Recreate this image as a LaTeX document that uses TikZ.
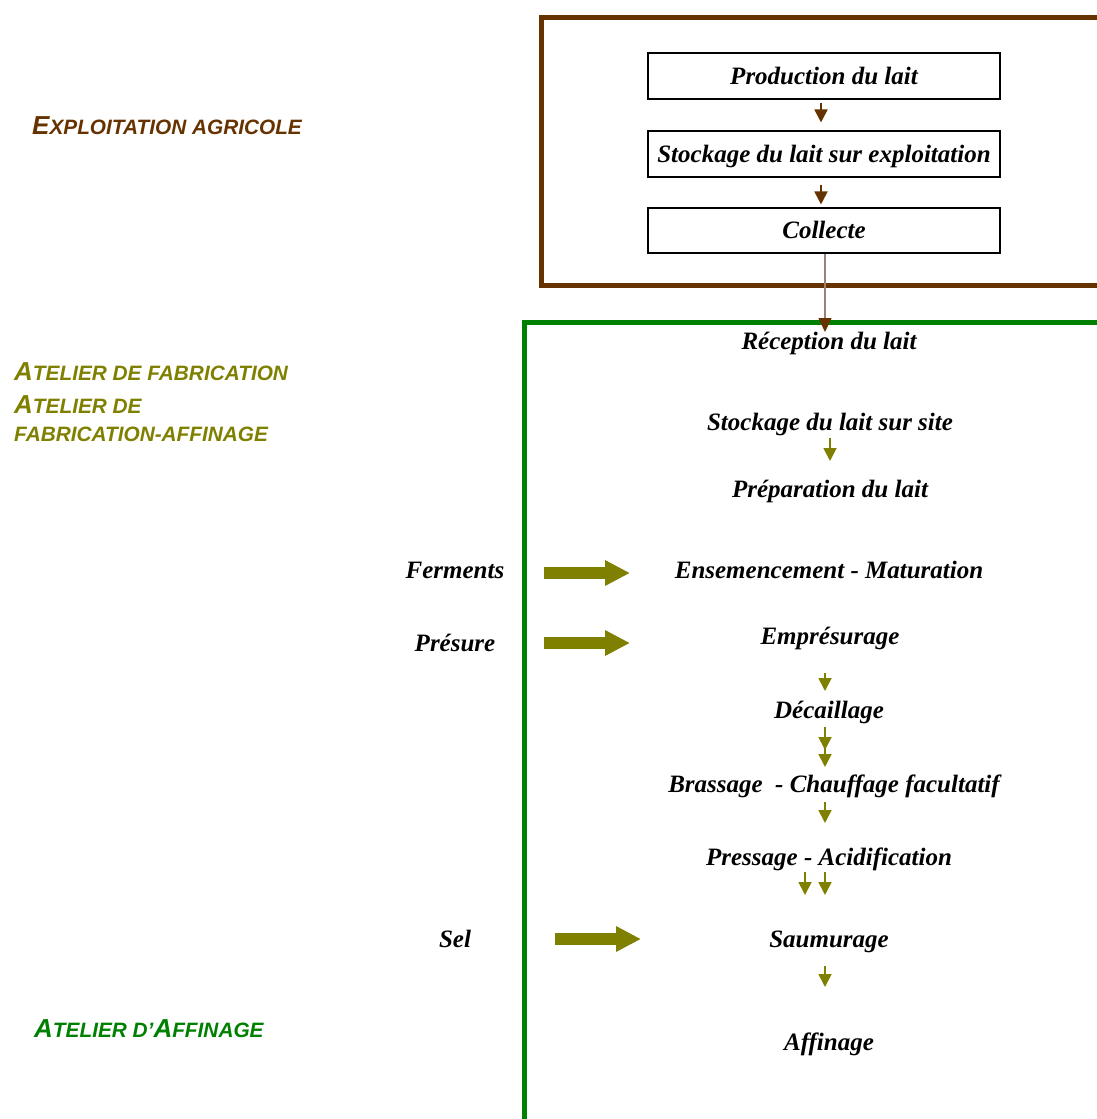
\documentclass[tikz,border=0pt]{standalone}
\usepackage{fontspec}
\setmainfont{Liberation Serif}
\newfontfamily\lblfamily{Liberation Sans}
\usetikzlibrary{arrows.meta,calc}
\definecolor{brn}{HTML}{663300}
\definecolor{olv}{HTML}{808000}
\definecolor{grn}{HTML}{008000}
\definecolor{lnk}{HTML}{9C8070}
\newcommand\stepfont{\fontsize{25pt}{30pt}\selectfont\bfseries\itshape}
\newcommand\lblfont{\lblfamily\fontsize{20.8pt}{24pt}\selectfont\bfseries\itshape}
\newcommand\capbig[1]{{\fontsize{26pt}{30pt}\selectfont #1}}
\tikzset{
  flowbox/.style={draw=black, line width=1.1pt, minimum width=352pt, minimum height=46pt,
    inner sep=0pt, text height=20pt, text depth=4pt, font=\stepfont},
  steptext/.style={anchor=base, inner sep=0pt, font=\stepfont},
  lbl/.style={anchor=base west, inner sep=0pt, font=\lblfont},
  brarrow/.style={draw=brn, line width=1.8pt, -{Triangle[width=13pt,length=13pt,color=brn]}},
  olarrow/.style={draw=olv, line width=1.8pt, -{Triangle[width=13pt,length=13pt,color=olv]}},
  olarrowtwo/.style={draw=olv, line width=1.8pt, -{Triangle[width=13pt,length=13pt,color=olv,sep=4pt]Triangle[width=13pt,length=13pt,color=olv]}},
  bigarrow/.style={draw=olv, line width=12pt, -{Triangle[width=24pt,length=25pt,color=olv]}},
  linkarrow/.style={draw=lnk, line width=1.5pt, -{Triangle[width=13pt,length=14pt,color=brn]}}
}
\begin{document}
\begin{tikzpicture}[x=1pt,y=-1pt]
\useasboundingbox (0,0) rectangle (1096,1119);
% frames
\draw[brn, line width=5.5pt] (541.5,17.5) rectangle (1120,285.5);
\draw[grn, line width=4.5pt] (524.5,322.5) rectangle (1120,1140);
% left labels
\node[lbl, text=brn] (lexp) at (32,134) {\capbig{E}XPLOITATION AGRICOLE};
\node[lbl, text=olv] (lfab1) at (14,380) {\capbig{A}TELIER DE FABRICATION};
\node[lbl, text=olv] (lfab2) at (14,413) {\capbig{A}TELIER DE};
\node[lbl, text=olv] (lfab3) at (14,441) {FABRICATION-AFFINAGE};
\node[lbl, text=grn] (laff) at (34,1037) {\capbig{A}TELIER D’\capbig{A}FFINAGE};
% farm boxes
\node[flowbox] (prod) at (824,76) {Production du lait};
\node[flowbox] (stockexp) at (824,154) {Stockage du lait sur exploitation};
\node[flowbox, minimum height=45pt] (coll) at (824,230.5) {Collecte};
\draw[brarrow] ($(prod.south)+(-3,3)$) -- ($(stockexp.north)+(-3,-8)$);
\draw[brarrow] ($(stockexp.south)+(-3,7)$) -- ($(coll.north)+(-3,-3)$);
% process steps
\node[steptext] (recep) at (829,349) {Réception du lait};
\node[steptext] (stocksite) at (830,430) {Stockage du lait sur site};
\node[steptext] (prep) at (830,497) {Préparation du lait};
\node[steptext] (ensem) at (829,578) {Ensemencement - Maturation};
\node[steptext] (empres) at (830,644) {Emprésurage};
\node[steptext] (decail) at (829,718) {Décaillage};
\node[steptext] (brass) at (834,792) {Brassage\ \ - Chauffage facultatif};
\node[steptext] (press) at (829,865) {Pressage - Acidification};
\node[steptext] (saum) at (829,947) {Saumurage};
\node[steptext] (affin) at (829,1050) {Affinage};
% inputs
\node[steptext] (ferm) at (455,578) {Ferments};
\node[steptext] (pres) at (455,651) {Présure};
\node[steptext] (sel) at (455,947) {Sel};
% link collecte -> reception
\draw[linkarrow] ($(coll.south)+(1,0)$) -- (825,332) coordinate (recin);
% olive arrows
\coordinate (o1a) at (830,438); \coordinate (o1b) at (830,461);
\coordinate (o2a) at (825,673); \coordinate (o2b) at (825,691);
\coordinate (o3a) at (825,727); \coordinate (o3b) at (825,767);
\coordinate (o4a) at (825,802); \coordinate (o4b) at (825,823);
\coordinate (o5a) at (805,872); \coordinate (o5b) at (805,895);
\coordinate (o6a) at (825,872); \coordinate (o6b) at (825,895);
\coordinate (o7a) at (825,966); \coordinate (o7b) at (825,987);
\draw[olarrow] (o1a) -- (o1b);
\draw[olarrow] (o2a) -- (o2b);
\draw[olarrowtwo] (o3a) -- (o3b);
\draw[olarrow] (o4a) -- (o4b);
\draw[olarrow] (o5a) -- (o5b);
\draw[olarrow] (o6a) -- (o6b);
\draw[olarrow] (o7a) -- (o7b);
% thick input arrows
\coordinate (fa) at (544,573); \coordinate (fb) at (630,573);
\coordinate (pa) at (544,643); \coordinate (pb) at (630,643);
\coordinate (sa) at (555,939); \coordinate (sb) at (641,939);
\draw[bigarrow] (fa) -- (fb);
\draw[bigarrow] (pa) -- (pb);
\draw[bigarrow] (sa) -- (sb);
\end{tikzpicture}
\end{document}
